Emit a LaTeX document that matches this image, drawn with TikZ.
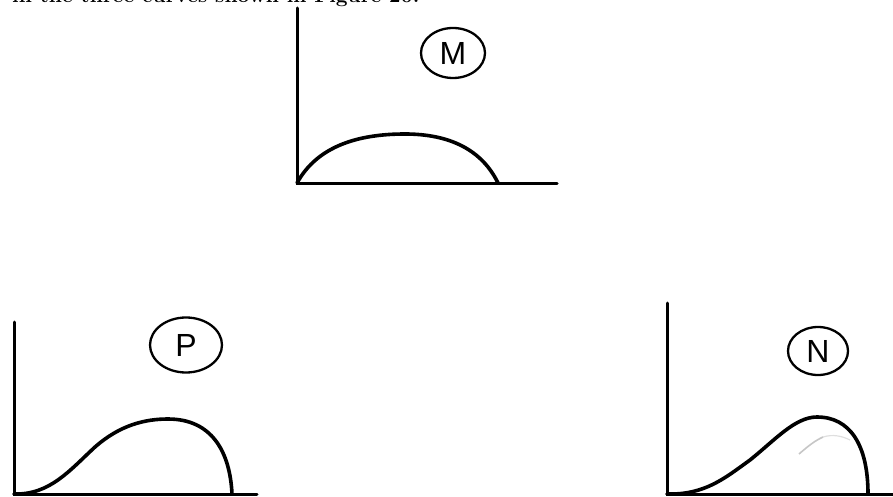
\documentclass[tikz,border=0pt]{standalone}
\usepackage{fontspec}
\usetikzlibrary{shapes.geometric}
\newfontfamily\handfont{Liberation Sans}
\begin{document}
\begin{tikzpicture}[x=1pt,y=-1pt,
  axis/.style={line width=3pt, line cap=round},
  curve/.style={line width=3.6pt, line cap=round},
  tag/.style={draw, line width=2.3pt, shape=ellipse, inner sep=0pt, font=\handfont\fontsize{32}{32}\selectfont},
  faint/.style={line width=1.6pt, gray!45}]
\useasboundingbox (0,0) rectangle (893,497);
% cut-off top line of text
\begin{scope}
\clip (0,0) rectangle (893,497);
\node[anchor=base west, inner sep=0pt, font=\fontsize{21}{21}\selectfont\bfseries] (toptext) at (12,3) {in the three curves shown in Figure 20.};
\end{scope}
% M
\draw[axis] (297,8) -- (297,183) -- (557,183);
\draw[curve] (297,183) .. controls (318,145) and (360,134) .. (405,134) .. controls (450,134) and (482,150) .. (498,183);
\node[tag, minimum width=64pt, minimum height=50pt] (M) at (453,53) {M};
% P
\draw[axis] (14,322) -- (14,494) -- (257,494);
\draw[curve] (14,494) .. controls (50,495) and (70,470) .. (95,447) .. controls (120,425) and (145,419) .. (168,419) .. controls (212,419) and (230,452) .. (232,494);
\node[tag, minimum width=72pt, minimum height=55pt] (P) at (186,345) {P};
% N
\draw[axis] (667,303) -- (667,494) -- (893,494);
\draw[curve] (667,494) .. controls (705,495) and (725,478) .. (750,460) .. controls (775,440) and (795,417) .. (817,417) .. controls (850,417) and (868,445) .. (868,494);
\draw[faint] (799,454) .. controls (806,448) and (814,441) .. (823,437);
\draw[gray!25, line width=1.2pt] (823,437) .. controls (833,434) and (842,436) .. (850,440);
\node[tag, minimum width=60pt, minimum height=48pt] (N) at (818,351) {N};
\end{tikzpicture}
\end{document}
